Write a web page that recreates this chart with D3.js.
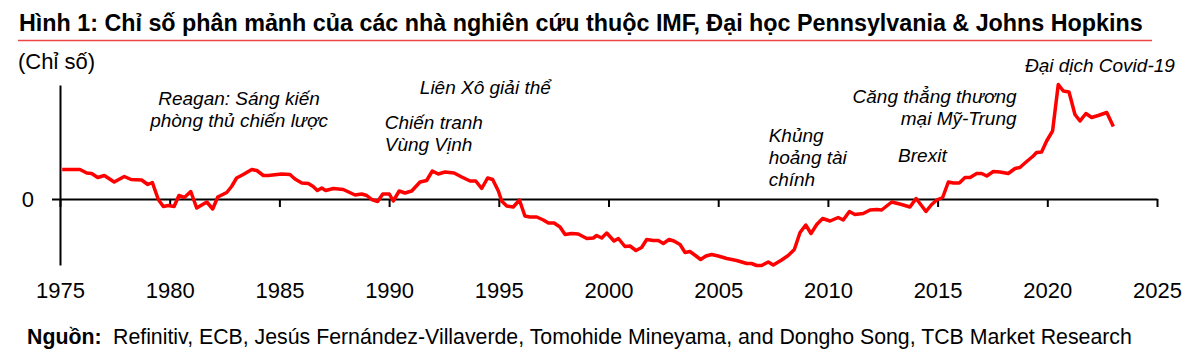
<!DOCTYPE html>
<html>
<head>
<meta charset="utf-8">
<script src="https://cdn.jsdelivr.net/npm/d3@7"></script>
<style>
  body { margin: 0; background: #fff; }
  svg { display: block; font-family: "Liberation Sans", Arial, sans-serif; }
</style>
</head>
<body>
<svg id="chart" width="1200" height="363"></svg>
<script>
// fragmentation index (decimal year, index value)
const years = [
  1975.10, 1975.91, 1976.22, 1976.44, 1976.72, 1977.02, 1977.47, 1977.93, 1978.24, 1978.72,
  1979.00, 1979.21, 1979.48, 1979.71, 1979.94, 1980.20, 1980.42, 1980.67, 1980.96, 1981.23,
  1981.69, 1981.96, 1982.19, 1982.60, 1982.82, 1983.05, 1983.35, 1983.74, 1983.97, 1984.27,
  1984.49, 1985.10, 1985.48, 1985.71, 1986.02, 1986.32, 1986.54, 1986.73, 1986.93, 1987.11,
  1987.46, 1987.91, 1988.45, 1988.75, 1988.98, 1989.21, 1989.48, 1989.71, 1990.01, 1990.19,
  1990.46, 1990.72, 1991.03, 1991.41, 1991.71, 1991.97, 1992.24, 1992.55, 1992.96, 1993.31,
  1993.69, 1993.95, 1994.22, 1994.49, 1994.72, 1994.98, 1995.13, 1995.36, 1995.66, 1995.94,
  1996.19, 1996.42, 1996.73, 1997.03, 1997.26, 1997.52, 1997.79, 1998.02, 1998.32, 1998.62,
  1999.01, 1999.31, 1999.46, 1999.69, 1999.92, 2000.25, 2000.45, 2000.75, 2000.98, 2001.25,
  2001.51, 2001.74, 2002.04, 2002.27, 2002.50, 2002.76, 2002.98, 2003.26, 2003.49, 2003.71,
  2003.99, 2004.20, 2004.44, 2004.70, 2005.00, 2005.39, 2005.84, 2006.30, 2006.52, 2006.75,
  2006.98, 2007.28, 2007.51, 2007.89, 2008.19, 2008.47, 2008.73, 2008.99, 2009.23, 2009.49,
  2009.76, 2010.10, 2010.47, 2010.70, 2010.98, 2011.23, 2011.61, 2011.92, 2012.22, 2012.45,
  2012.91, 2013.36, 2013.74, 2014.02, 2014.23, 2014.47, 2014.73, 2014.96, 2015.23, 2015.49,
  2015.72, 2015.99, 2016.25, 2016.48, 2016.78, 2017.01, 2017.24, 2017.54, 2017.84, 2018.22,
  2018.53, 2018.75, 2019.06, 2019.36, 2019.51, 2019.74, 2019.97, 2020.24, 2020.50, 2020.73,
  2020.99, 2021.26, 2021.49, 2021.76, 2022.02, 2022.32, 2022.71, 2023.01
];
const values = [
  0.59, 0.59, 0.52, 0.51, 0.43, 0.47, 0.34, 0.45, 0.39, 0.38,
  0.29, 0.33, -0.01, -0.15, -0.13, -0.15, 0.07, 0.03, 0.15, -0.18,
  -0.06, -0.20, 0.04, 0.13, 0.25, 0.42, 0.49, 0.59, 0.57, 0.47,
  0.47, 0.50, 0.49, 0.40, 0.32, 0.31, 0.25, 0.17, 0.22, 0.17,
  0.21, 0.19, 0.08, 0.10, 0.07, -0.01, -0.05, 0.10, 0.10, -0.04,
  0.16, 0.12, 0.16, 0.34, 0.37, 0.56, 0.50, 0.54, 0.52, 0.44,
  0.36, 0.36, 0.21, 0.42, 0.39, 0.16, -0.04, -0.14, -0.16, -0.02,
  -0.34, -0.36, -0.36, -0.42, -0.48, -0.48, -0.56, -0.71, -0.69, -0.70,
  -0.79, -0.78, -0.73, -0.78, -0.68, -0.84, -0.79, -0.95, -0.94, -1.03,
  -0.97, -0.81, -0.83, -0.83, -0.89, -0.81, -0.84, -0.91, -1.07, -1.05,
  -1.14, -1.21, -1.14, -1.11, -1.14, -1.19, -1.23, -1.29, -1.29, -1.33,
  -1.33, -1.26, -1.32, -1.22, -1.13, -1.01, -0.67, -0.52, -0.69, -0.51,
  -0.39, -0.44, -0.37, -0.42, -0.25, -0.31, -0.29, -0.22, -0.21, -0.22,
  -0.06, -0.11, -0.16, 0.01, -0.11, -0.25, -0.11, -0.02, 0.03, 0.34,
  0.32, 0.32, 0.43, 0.43, 0.51, 0.51, 0.46, 0.55, 0.54, 0.51,
  0.61, 0.63, 0.75, 0.86, 0.93, 0.94, 1.16, 1.36, 2.29, 2.16,
  2.14, 1.69, 1.56, 1.71, 1.63, 1.67, 1.73, 1.45
];
const tickYears = [1975, 1980, 1985, 1990, 1995, 2000, 2005, 2010, 2015, 2020, 2025];

// event labels: lines, anchor year, baseline of first line, alignment
const events = [
  { lines: ["Reagan: Sáng kiến", "phòng thủ chiến lược"], year: 1983.16, y: 105, anchor: "middle" },
  { lines: ["Liên Xô giải thể"], year: 1991.4, y: 94, anchor: "start" },
  { lines: ["Chiến tranh", "Vùng Vịnh"], year: 1989.8, y: 129, anchor: "start" },
  { lines: ["Khủng", "hoảng tài", "chính"], year: 2007.3, y: 141.5, anchor: "start" },
  { lines: ["Brexit"], year: 2013.2, y: 161.5, anchor: "start" },
  { lines: ["Căng thẳng thương", "mại Mỹ-Trung"], year: 2018.6, y: 103, anchor: "end" },
  { lines: ["Đại dịch Covid-19"], year: 2018.98, y: 72, anchor: "start" }
];

const svg = d3.select("#chart");

const x = d3.scaleLinear().domain([1975, 2025]).range([60, 1157]);
const y = d3.scaleLinear().domain([-1.32, 2.28]).range([265, 85]);

// title + red rule
svg.append("text")
  .attr("x", 19).attr("y", 31)
  .attr("font-size", 23.3).attr("font-weight", "bold").attr("fill", "#000")
  .text("Hình 1: Chỉ số phân mảnh của các nhà nghiên cứu thuộc IMF, Đại học Pennsylvania & Johns Hopkins");

svg.append("line")
  .attr("x1", 18).attr("x2", 1152).attr("y1", 40.5).attr("y2", 40.5)
  .attr("stroke", "#ee4444").attr("stroke-width", 1.5);

svg.append("text")
  .attr("x", 18).attr("y", 69)
  .attr("font-size", 22).attr("fill", "#000")
  .text("(Chỉ số)");

// y axis: vertical rule with a single 0 tick
const yAxis = svg.append("g")
  .attr("transform", "translate(60,0)")
  .call(d3.axisLeft(y).tickValues([0]).tickFormat(d3.format("d"))
    .tickSize(8).tickSizeOuter(0).tickPadding(18));

// x axis sits on the zero line, labels pushed down to the bottom
const xAxis = svg.append("g")
  .attr("transform", `translate(0,${y(0)})`)
  .call(d3.axisBottom(x).tickValues(tickYears).tickFormat(d3.format("d"))
    .tickSize(8).tickSizeOuter(0).tickPadding(75));

[yAxis, xAxis].forEach(g => {
  g.selectAll("path, line").attr("stroke", "#000").attr("stroke-width", 2);
  g.selectAll("text").attr("font-size", 22).attr("fill", "#000")
    .attr("font-family", "Liberation Sans, Arial, sans-serif");
});

// the series
const line = d3.line()
  .x((d, i) => x(years[i]))
  .y(d => y(d));

svg.append("path")
  .datum(values)
  .attr("fill", "none")
  .attr("stroke", "#ff0000")
  .attr("stroke-width", 3.5)
  .attr("stroke-linejoin", "round")
  .attr("d", line);

// event notes
events.forEach(ev => {
  const t = svg.append("text")
    .attr("font-size", 19).attr("font-style", "italic").attr("fill", "#000")
    .attr("text-anchor", ev.anchor);
  ev.lines.forEach((s, i) => {
    t.append("tspan")
      .attr("x", x(ev.year))
      .attr("y", ev.y + i * 22)
      .text(s);
  });
});

// source line
const src = svg.append("text").attr("x", 27).attr("y", 344).attr("font-size", 21.3).attr("fill", "#000");
src.append("tspan").attr("font-weight", "bold").text("Nguồn:");
src.append("tspan").attr("x", 113).text("Refinitiv, ECB, Jesús Fernández-Villaverde, Tomohide Mineyama, and Dongho Song, TCB Market Research");
</script>
</body>
</html>
